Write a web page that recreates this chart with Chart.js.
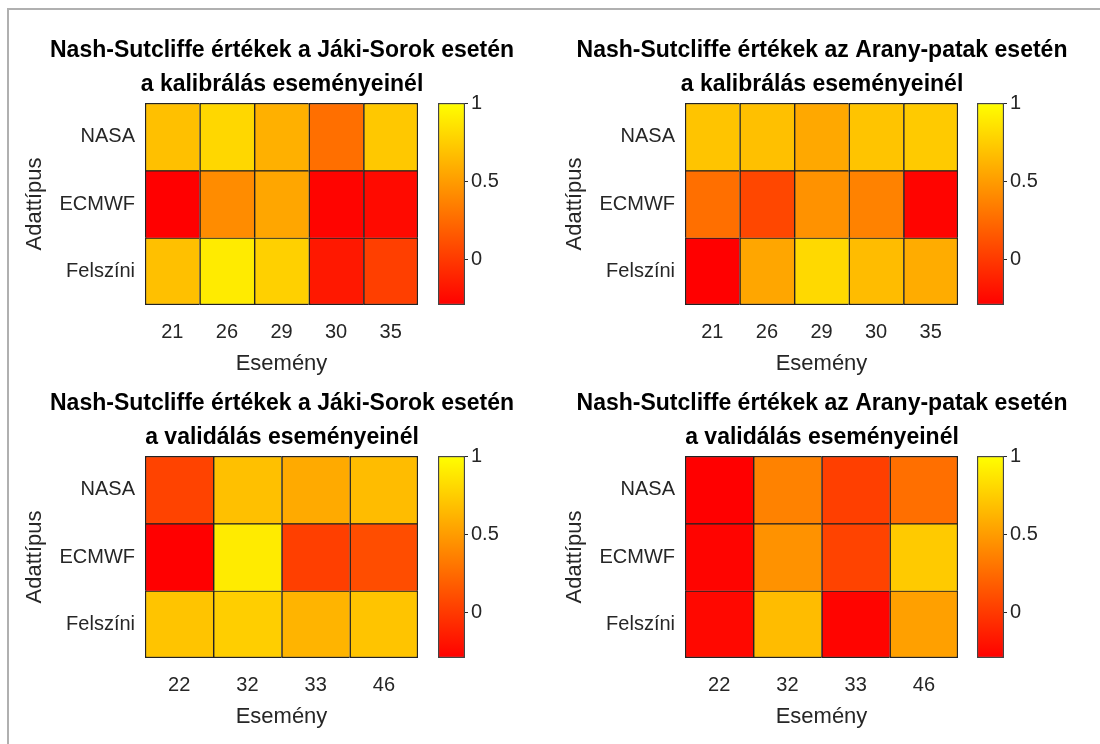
<!DOCTYPE html>
<html>
<head>
<meta charset="utf-8">
<script src="https://cdn.jsdelivr.net/npm/chart.js@4"></script>
<style>
  body { margin: 0; background: #fff; }
  #wrap { position: relative; width: 1100px; height: 744px; overflow: hidden; }
  #frame { position: absolute; left: 7px; top: 8px; width: 1100px; height: 744px;
           border-left: 2px solid #b0b0b0; border-top: 2px solid #b0b0b0; }
  canvas { position: absolute; }
</style>
</head>
<body>
<div id="wrap">
  <div id="frame"></div>
  <canvas id="h1" width="564" height="380" style="left:0px;top:0px"></canvas>
  <canvas id="h2" width="544" height="380" style="left:550px;top:0px"></canvas>
  <canvas id="h3" width="564" height="380" style="left:0px;top:353px"></canvas>
  <canvas id="h4" width="544" height="380" style="left:550px;top:353px"></canvas>
  <canvas id="c1" width="70" height="250" style="left:430px;top:80px"></canvas>
  <canvas id="c2" width="70" height="250" style="left:969px;top:80px"></canvas>
  <canvas id="c3" width="70" height="250" style="left:430px;top:433px"></canvas>
  <canvas id="c4" width="70" height="250" style="left:969px;top:433px"></canvas>
</div>
<script>
// sorok és események
const rowLabels = ['NASA', 'ECMWF', 'Felszíni'];
const eventsKalib = ['21', '26', '29', '30', '35'];
const eventsValid = ['22', '32', '33', '46'];

// Jáki-Sorok, kalibrálás
const jakiKalibNasa = [0.68, 0.80, 0.60, 0.27, 0.72];
const jakiKalibEcmwf = [-0.29, 0.42, 0.55, -0.27, -0.24];
const jakiKalibFelszini = [0.68, 0.90, 0.76, -0.17, 0.03];

// Arany-patak, kalibrálás
const aranyKalibNasa = [0.70, 0.68, 0.56, 0.70, 0.73];
const aranyKalibEcmwf = [0.27, 0.07, 0.45, 0.37, -0.27];
const aranyKalibFelszini = [-0.29, 0.55, 0.81, 0.66, 0.58];

// Jáki-Sorok, validálás
const jakiValidNasa = [0.05, 0.68, 0.57, 0.66];
const jakiValidEcmwf = [-0.29, 0.90, 0.03, 0.10];
const jakiValidFelszini = [0.70, 0.75, 0.62, 0.70];

// Arany-patak, validálás
const aranyValidNasa = [-0.29, 0.37, 0.03, 0.27];
const aranyValidEcmwf = [-0.27, 0.45, 0.05, 0.73];
const aranyValidFelszini = [-0.25, 0.66, -0.27, 0.52];

// színskála határai és a colorbar feliratai
const CMIN = -0.29;
const CMAX = 1;
const colorbarTicks = [0, 0.5, 1];

const FONT = '"Liberation Sans", Arial, Helvetica, sans-serif';
const GRAY = '#262626';

// MATLAB "autumn" színskála: piros -> sárga
function autumn(v) {
    const t = Math.max(0, Math.min(1, (v - CMIN) / (CMAX - CMIN)));
    return `rgb(255, ${Math.round(255 * t)}, 0)`;
}

function heatmap(id, titleLines, events, rows, yWidth, yTitlePad, rightSpace) {
    const datasets = rows.map((vals, r) => {
        const lo = 2 - r;
        return {
            label: rowLabels[r],
            data: vals.map(() => [lo, lo + 1]),
            backgroundColor: vals.map(autumn),
            borderColor: '#222',
            borderWidth: vals.map((v, i) => ({
                top: 1.5, left: 1.5,
                right: i === vals.length - 1 ? 1.5 : 0,
                bottom: r === rows.length - 1 ? 1.5 : 0
            })),
            borderSkipped: false,
            barPercentage: 1,
            categoryPercentage: 1,
            grouped: false
        };
    });

    new Chart(document.getElementById(id), {
        type: 'bar',
        data: { labels: events, datasets: datasets },
        options: {
            responsive: false,
            animation: false,
            layout: { padding: 0 },
            plugins: {
                legend: { display: false },
                tooltip: { enabled: false },
                title: {
                    display: true,
                    text: titleLines,
                    color: '#000',
                    font: { family: FONT, size: 23, weight: 'bold', lineHeight: 34 / 23 },
                    padding: { top: 34, bottom: 1 }
                }
            },
            scales: {
                x: {
                    type: 'category',
                    grid: { display: false, drawTicks: false },
                    border: { display: false },
                    ticks: { padding: 15, color: GRAY, font: { family: FONT, size: 20 } },
                    title: {
                        display: true, text: 'Esemény', color: GRAY,
                        font: { family: FONT, size: 22 },
                        padding: { top: 0, bottom: 3 }
                    },
                    afterFit: s => { s.height = 75; }
                },
                y: {
                    type: 'linear',
                    min: 0,
                    max: 3,
                    grid: { display: false, drawTicks: false },
                    border: { display: false },
                    afterBuildTicks: s => { s.ticks = [0.5, 1.5, 2.5].map(v => ({ value: v })); },
                    ticks: {
                        padding: 10, color: GRAY, font: { family: FONT, size: 20 },
                        callback: v => rowLabels[2 - Math.floor(v)]
                    },
                    title: {
                        display: true, text: 'Adattípus', color: GRAY,
                        font: { family: FONT, size: 22 },
                        padding: { top: yTitlePad, bottom: 0 }
                    },
                    afterFit: s => { s.width = yWidth; }
                },
                // üres jobb oldali tengely: helyet hagy a colorbarnak
                yRight: {
                    position: 'right',
                    grid: { display: false, drawTicks: false },
                    border: { display: false },
                    ticks: { display: false },
                    afterFit: s => { s.width = rightSpace; }
                }
            }
        }
    });
}

function colorbar(id) {
    new Chart(document.getElementById(id), {
        type: 'bar',
        data: {
            labels: [''],
            datasets: [{
                data: [[CMIN, CMAX]],
                backgroundColor: ctx => {
                    const a = ctx.chart.chartArea;
                    if (!a) return autumn(CMIN);
                    const g = ctx.chart.ctx.createLinearGradient(0, a.bottom, 0, a.top);
                    g.addColorStop(0, autumn(CMIN));
                    g.addColorStop(1, autumn(CMAX));
                    return g;
                },
                borderColor: '#444',
                borderWidth: 1.5,
                borderSkipped: false,
                barPercentage: 1,
                categoryPercentage: 1
            }]
        },
        options: {
            responsive: false,
            animation: false,
            layout: { padding: { left: 8, right: 0, top: 23, bottom: 25 } },
            plugins: { legend: { display: false }, tooltip: { enabled: false } },
            scales: {
                x: { display: false },
                y: {
                    position: 'right',
                    min: CMIN,
                    max: CMAX,
                    afterBuildTicks: s => { s.ticks = colorbarTicks.map(v => ({ value: v })); },
                    grid: { drawOnChartArea: false, drawTicks: true, tickLength: 3, color: GRAY },
                    border: { display: false },
                    ticks: { padding: 3, color: GRAY, font: { family: FONT, size: 20 }, callback: v => String(v) },
                    afterFit: s => { s.width = 35; }
                }
            }
        }
    });
}

heatmap('h1', ['Nash-Sutcliffe értékek a Jáki-Sorok esetén', 'a kalibrálás eseményeinél'],
    eventsKalib, [jakiKalibNasa, jakiKalibEcmwf, jakiKalibFelszini], 145, 22, 146);
heatmap('h2', ['Nash-Sutcliffe értékek az Arany-patak esetén', 'a kalibrálás eseményeinél'],
    eventsKalib, [aranyKalibNasa, aranyKalibEcmwf, aranyKalibFelszini], 135, 12, 136);
heatmap('h3', ['Nash-Sutcliffe értékek a Jáki-Sorok esetén', 'a validálás eseményeinél'],
    eventsValid, [jakiValidNasa, jakiValidEcmwf, jakiValidFelszini], 145, 22, 146);
heatmap('h4', ['Nash-Sutcliffe értékek az Arany-patak esetén', 'a validálás eseményeinél'],
    eventsValid, [aranyValidNasa, aranyValidEcmwf, aranyValidFelszini], 135, 12, 136);

colorbar('c1');
colorbar('c2');
colorbar('c3');
colorbar('c4');
</script>
</body>
</html>
